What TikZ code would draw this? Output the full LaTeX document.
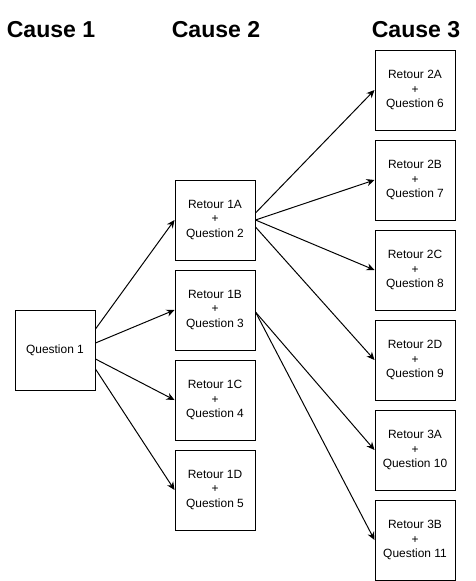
\documentclass[tikz,border=0pt]{standalone}
\usepackage{fontspec}
\setmainfont{Liberation Sans}
\usetikzlibrary{arrows.meta}

\begin{document}
\begin{tikzpicture}[
  box/.style={draw,line width=0.7pt,minimum width=2cm,minimum height=2cm,align=center,
    font=\fontsize{8.5}{10}\selectfont,inner sep=0pt},
  head/.style={font=\fontsize{16.4}{18}\selectfont\bfseries},
  link/.style={line width=0.7pt,-{Stealth[length=2mm,width=1.8mm]}}]
\useasboundingbox (0,0) rectangle (11.9,-14.525);
% Headings
\node[head] (c1) at (1.275,-0.75) {Cause 1};
\node[head] (c2) at (5.4,-0.75) {Cause 2};
\node[head] (c3) at (10.4,-0.75) {Cause 3};

% Boxes
\node[box] (q1) at (1.375,-8.75) {Question 1};

\node[box] (r1a) at (5.375,-5.5) {Retour 1A\\+\\Question 2};
\node[box] (r1b) at (5.375,-7.75) {Retour 1B\\+\\Question 3};
\node[box] (r1c) at (5.375,-10) {Retour 1C\\+\\Question 4};
\node[box] (r1d) at (5.375,-12.25) {Retour 1D\\+\\Question 5};

\node[box] (r2a) at (10.375,-2.25) {Retour 2A\\+\\Question 6};
\node[box] (r2b) at (10.375,-4.5) {Retour 2B\\+\\Question 7};
\node[box] (r2c) at (10.375,-6.75) {Retour 2C\\+\\Question 8};
\node[box] (r2d) at (10.375,-9) {Retour 2D\\+\\Question 9};
\node[box] (r3a) at (10.375,-11.25) {Retour 3A\\+\\Question 10};
\node[box] (r3b) at (10.375,-13.5) {Retour 3B\\+\\Question 11};

% Arrows
\draw[link] ([yshift=5.25mm]q1.east) -- (r1a.west);
\draw[link] ([yshift=1.75mm]q1.east) -- (r1b.west);
\draw[link] ([yshift=-2.25mm]q1.east) -- (r1c.west);
\draw[link] ([yshift=-4.75mm]q1.east) -- (r1d.west);

\draw[link] ([yshift=1.75mm]r1a.east) -- (r2a.west);
\draw[link] (r1a.east) -- (r2b.west);
\draw[link] (r1a.east) -- (r2c.west);
\draw[link] ([yshift=-1.75mm]r1a.east) -- (r2d.west);

\draw[link] ([yshift=-0.5mm]r1b.east) -- (r3a.west);
\draw[link] ([yshift=-0.5mm]r1b.east) -- (r3b.west);
\end{tikzpicture}
\end{document}
